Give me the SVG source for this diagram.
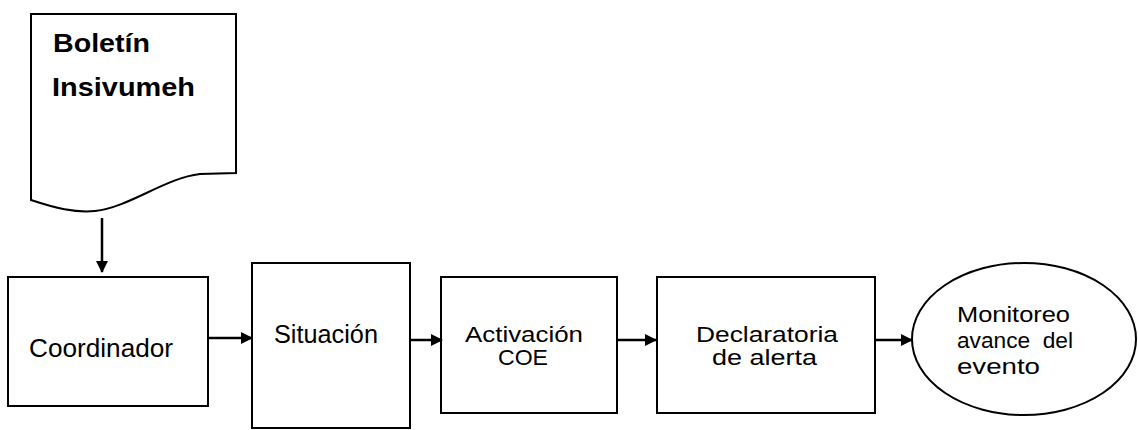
<svg xmlns="http://www.w3.org/2000/svg" width="1138" height="430" viewBox="0 0 1138 430">
<style>
.s{fill:#fff;stroke:#000;stroke-width:2}
.t{font-family:"Liberation Sans",Arial,sans-serif;font-size:25px;fill:#000}
.m{font-size:22px}
.b{font-weight:bold}
.c{stroke:#000;stroke-width:2.5;fill:none}
</style>
<defs>
<marker id="ah" markerWidth="12" markerHeight="12" refX="11" refY="6" orient="auto" markerUnits="userSpaceOnUse">
<path d="M0,0 L12,6 L0,12 Z" fill="#000"/>
</marker>
</defs>
<rect width="1138" height="430" fill="#fff"/>
<g id="boletin">
<path class="s" d="M31,14 H236 V173 L200,174 C165,178 130,207 95,211 C75,213 55,208 31,200 Z"/>
<text class="t b" x="53" y="52" textLength="97" lengthAdjust="spacingAndGlyphs">Boletín</text>
<text class="t b" x="52" y="96" textLength="143" lengthAdjust="spacingAndGlyphs">Insivumeh</text>
</g>
<g id="coordinador">
<rect class="s" x="8" y="277" width="200" height="129"/>
<text class="t" x="29" y="357" textLength="144" lengthAdjust="spacingAndGlyphs">Coordinador</text>
</g>
<g id="situacion">
<rect class="s" x="252" y="263" width="158" height="165"/>
<text class="t" x="274" y="343" textLength="104" lengthAdjust="spacingAndGlyphs">Situación</text>
</g>
<g id="activacion">
<rect class="s" x="441" y="277" width="176" height="136"/>
<text class="t m" x="465" y="342" textLength="118" lengthAdjust="spacingAndGlyphs">Activación</text>
<text class="t m" x="498" y="365" textLength="50" lengthAdjust="spacingAndGlyphs">COE</text>
</g>
<g id="declaratoria">
<rect class="s" x="657" y="277" width="218" height="136"/>
<text class="t m" x="696" y="342" textLength="142" lengthAdjust="spacingAndGlyphs">Declaratoria</text>
<text class="t m" x="712" y="365" textLength="105" lengthAdjust="spacingAndGlyphs">de alerta</text>
</g>
<g id="monitoreo">
<ellipse class="s" cx="1024" cy="339" rx="112" ry="76"/>
<text class="t m" x="957" y="322" textLength="113" lengthAdjust="spacingAndGlyphs">Monitoreo</text>
<text class="t m" x="957" y="348" textLength="116" lengthAdjust="spacingAndGlyphs" xml:space="preserve">avance  del</text>
<text class="t m" x="957" y="374" textLength="83" lengthAdjust="spacingAndGlyphs">evento</text>
</g>
<g id="connectors">
<line class="c" x1="102" y1="218" x2="102" y2="272" marker-end="url(#ah)"/>
<line class="c" x1="208" y1="338" x2="252" y2="338" marker-end="url(#ah)"/>
<line class="c" x1="410" y1="340" x2="442" y2="340" marker-end="url(#ah)"/>
<line class="c" x1="617" y1="340" x2="656" y2="340" marker-end="url(#ah)"/>
<line class="c" x1="875" y1="340" x2="912" y2="340" marker-end="url(#ah)"/>
</g>
</svg>
